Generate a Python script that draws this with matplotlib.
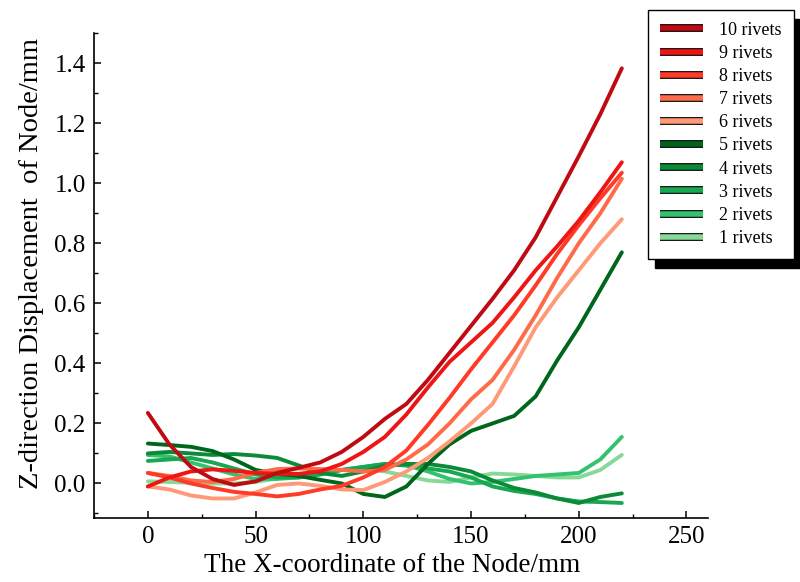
import matplotlib
matplotlib.use("Agg")
import matplotlib.pyplot as plt
from matplotlib.lines import Line2D
from matplotlib.ticker import MultipleLocator, FormatStrFormatter
import matplotlib.patheffects as pe

plt.rcParams['font.family'] = ['Liberation Serif', 'DejaVu Serif']

# Node X-coordinates (mm)
x_nodes = [0, 10, 20, 30, 40, 50, 60, 70, 80, 90, 100, 110, 120, 130, 140,
           150, 160, 170, 180, 190, 200, 210, 220]

# Z-direction displacement (mm) for each rivet count
disp_10 = [0.235, 0.13, 0.055, 0.015, -0.005, 0.007, 0.035, 0.052, 0.07, 0.105, 0.155, 0.215,
           0.265, 0.345, 0.435, 0.525, 0.615, 0.71, 0.82, 0.955, 1.09, 1.23, 1.383]
disp_9 = [-0.01, 0.02, 0.04, 0.047, 0.042, 0.035, 0.032, 0.032, 0.04, 0.065, 0.105, 0.155,
          0.23, 0.32, 0.405, 0.47, 0.535, 0.62, 0.71, 0.79, 0.875, 0.97, 1.07]
disp_8 = [0.035, 0.02, 0.0, -0.015, -0.028, -0.035, -0.043, -0.035, -0.02, -0.008, 0.02, 0.055,
          0.11, 0.195, 0.285, 0.38, 0.47, 0.56, 0.66, 0.765, 0.86, 0.95, 1.035]
disp_7 = [0.035, 0.025, 0.01, 0.005, 0.015, 0.035, 0.048, 0.05, 0.048, 0.045, 0.04, 0.045,
          0.08, 0.13, 0.2, 0.28, 0.345, 0.445, 0.56, 0.685, 0.8, 0.9, 1.015]
disp_6 = [-0.01, -0.02, -0.04, -0.05, -0.05, -0.03, -0.005, 0.0, -0.008, -0.02, -0.022, 0.005,
          0.04, 0.085, 0.14, 0.2, 0.265, 0.39, 0.52, 0.62, 0.71, 0.8, 0.88]
disp_5 = [0.133, 0.128, 0.122, 0.108, 0.08, 0.045, 0.032, 0.025, 0.012, 0.0, -0.035, -0.045,
          -0.01, 0.065, 0.13, 0.175, 0.2, 0.225, 0.29, 0.41, 0.52, 0.645, 0.77]
disp_4 = [0.10, 0.105, 0.10, 0.095, 0.098, 0.093, 0.085, 0.06, 0.035, 0.025, 0.04, 0.06,
          0.065, 0.065, 0.055, 0.04, 0.01, -0.015, -0.03, -0.05, -0.065, -0.045, -0.033]
disp_3 = [0.075, 0.08, 0.085, 0.07, 0.05, 0.03, 0.02, 0.02, 0.03, 0.045, 0.055, 0.065,
          0.06, 0.05, 0.04, 0.02, -0.01, -0.025, -0.035, -0.05, -0.06, -0.062, -0.065]
disp_2 = [0.095, 0.09, 0.07, 0.05, 0.03, 0.015, 0.015, 0.02, 0.03, 0.045, 0.055, 0.065,
          0.06, 0.04, 0.015, 0.0, 0.005, 0.015, 0.025, 0.03, 0.035, 0.08, 0.155]
disp_1 = [0.007, 0.005, 0.002, 0.0, 0.0, 0.005, 0.017, 0.03, 0.04, 0.045, 0.05, 0.04,
          0.025, 0.01, 0.005, 0.02, 0.033, 0.03, 0.025, 0.02, 0.02, 0.045, 0.095]

series_labels = ['10 rivets', '9 rivets', '8 rivets', '7 rivets', '6 rivets',
                 '5 rivets', '4 rivets', '3 rivets', '2 rivets', '1 rivets']
series_data = [disp_10, disp_9, disp_8, disp_7, disp_6,
               disp_5, disp_4, disp_3, disp_2, disp_1]
series_colors = ['#bf0a12', '#ee1515', '#ff3a26', '#ff6a48', '#ff9a78',
                 '#00661c', '#0b8a38', '#18a852', '#33c26e', '#88d898']

fig = plt.figure(figsize=(8.0, 5.82), dpi=100)
ax = fig.add_axes([0.1175, 0.110, 0.7675, 0.833])

# draw light series first so the darker ones sit on top
for lab, ys, col in reversed(list(zip(series_labels, series_data, series_colors))):
    ax.plot(x_nodes, ys, color=col, lw=2.8, solid_joinstyle='round',
            solid_capstyle='round')

ax.set_xlim(-25, 260)
ax.set_ylim(-0.115, 1.50)
ax.xaxis.set_major_locator(MultipleLocator(50))
ax.xaxis.set_minor_locator(MultipleLocator(25))
ax.yaxis.set_major_locator(MultipleLocator(0.2))
ax.yaxis.set_minor_locator(MultipleLocator(0.1))
ax.yaxis.set_major_formatter(FormatStrFormatter('%.1f'))

for s in ('top', 'right'):
    ax.spines[s].set_visible(False)
for s in ('left', 'bottom'):
    ax.spines[s].set_linewidth(1.2)

ax.tick_params(which='major', direction='in', length=5, width=1.1,
               labelsize=18, pad=6)
ax.tick_params(which='minor', direction='in', length=3, width=1.0)

ax.set_xlabel('The X-coordinate of the Node/mm', fontsize=19.5)
ax.set_ylabel('Z-direction Displacement  of Node/mm', fontsize=20.5)
ax.xaxis.set_label_coords(0.486, -0.072)
ax.yaxis.set_label_coords(-0.081, 0.525)

handles = [Line2D([0], [0], color=c, lw=4.0, solid_capstyle='butt',
                  path_effects=[pe.Stroke(linewidth=5.6, foreground='black',
                                          capstyle='butt'),
                                pe.Normal()])
           for c in series_colors]
leg = fig.legend(handles, series_labels, loc='upper left',
                 bbox_to_anchor=(648 / 800, 1 - 10 / 582),
                 bbox_transform=fig.transFigure, borderaxespad=0,
                 fontsize=13, handlelength=2.4, handletextpad=0.9,
                 labelspacing=0.34, borderpad=0.65, fancybox=False,
                 edgecolor='black', framealpha=1,
                 shadow={'ox': 5, 'oy': -6.5, 'facecolor': 'black',
                         'edgecolor': 'black', 'alpha': 1})
leg.get_frame().set_linewidth(1.0)

fig.savefig('out.png', dpi=100)
